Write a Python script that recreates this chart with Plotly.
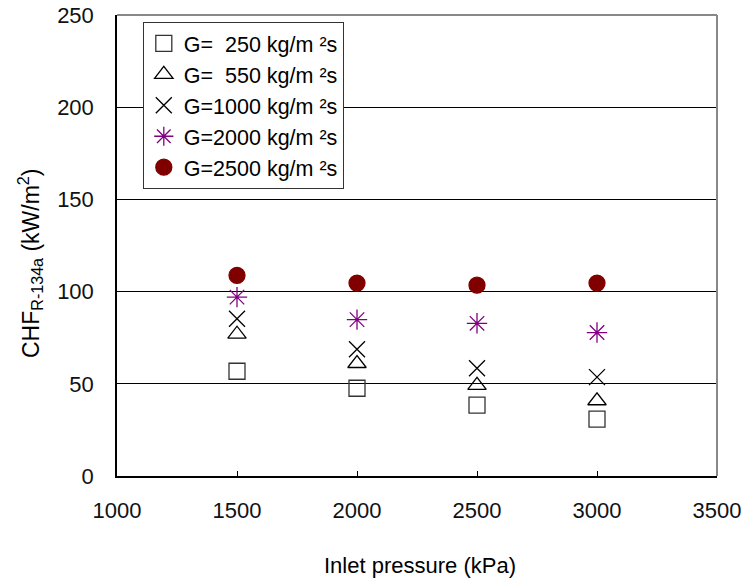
import plotly.graph_objects as go

pressure = [1500, 2000, 2500, 3000]
chf_g250 = [56.8, 47.6, 38.4, 30.8]
chf_g550 = [76.9, 61.0, 49.2, 40.8]
chf_g1000 = [85.3, 68.7, 58.4, 53.6]
chf_g2000 = [97.0, 84.8, 82.8, 77.8]
chf_g2500 = [108.8, 104.6, 103.5, 104.6]

labels = ["G=\u00a0\u00a0250 kg/m \u00b2s", "G=\u00a0\u00a0550 kg/m \u00b2s",
          "G=1000 kg/m \u00b2s", "G=2000 kg/m \u00b2s", "G=2500 kg/m \u00b2s"]
series = [chf_g250, chf_g550, chf_g1000, chf_g2000, chf_g2500]
symbols = ["square-open", "triangle-up-open", "x-thin-open", "asterisk-open", "circle"]
colors = ["#333333", "#000000", "#000000", "#800080", "#800000"]
sizes = [16, 16, 16, 17, 16]

FONT = "Liberation Sans, Arial, sans-serif"

fig = go.Figure()
for i, (lab, ys, sym, col, sz) in enumerate(zip(labels, series, symbols, colors, sizes)):
    fig.add_trace(go.Scatter(
        x=pressure, y=ys, mode="markers", name=lab, legendgroup=f"g{i}",
        marker=dict(symbol=sym, size=sz, color=col, line=dict(color=col, width=1.3)),
    ))

fig.update_layout(
    width=749, height=585,
    margin=dict(l=117, r=32, t=15, b=109),
    paper_bgcolor="white", plot_bgcolor="white",
    font=dict(family=FONT, size=22, color="#000"),
    showlegend=True,
    legend=dict(x=0.043, y=0.985, xanchor="left", yanchor="top",
                bordercolor="#333", borderwidth=1, bgcolor="white",
                font=dict(size=21.5), tracegroupgap=0, itemwidth=30,
                itemsizing="trace"),
    xaxis=dict(range=[1000, 3500], dtick=500, showgrid=False, zeroline=False,
               showline=True, linecolor="#000", linewidth=1.5, mirror=False,
               ticks="inside", ticklen=5, tickcolor="#000", automargin=False,
               ticklabeloverflow="allow",
               ticklabelstandoff=14, tickfont=dict(size=22, color="#111")),
    yaxis=dict(range=[0, 250], dtick=50, showgrid=True, gridcolor="#000", gridwidth=1,
               zeroline=False, showline=True, linecolor="#000", linewidth=1.5,
               ticks="inside", ticklen=5, tickcolor="#000", automargin=False,
               ticklabeloverflow="allow",
               ticklabelstandoff=17, tickfont=dict(size=22, color="#111")),
    shapes=[
        dict(type="line", xref="paper", yref="paper", x0=0, x1=1, y0=1, y1=1,
             line=dict(color="#888", width=2)),
        dict(type="line", xref="paper", yref="paper", x0=1, x1=1, y0=0, y1=1,
             line=dict(color="#888", width=2)),
    ],
    annotations=[
        dict(text="Inlet pressure (kPa)", xref="paper", yref="paper", x=0.505, y=0,
             xanchor="center", yanchor="middle", yshift=-89, showarrow=False,
             font=dict(size=22)),
        dict(text="CHF<sub>R-134a</sub> (kW/m<sup>2</sup>)", xref="paper", yref="paper",
             x=0, y=0.462, xanchor="center", yanchor="middle", xshift=-87,
             textangle=-90, showarrow=False, font=dict(size=23)),
    ],
)

fig.write_html("out.html", config={"displayModeBar": False},
               post_script="document.body.style.margin='0';")
